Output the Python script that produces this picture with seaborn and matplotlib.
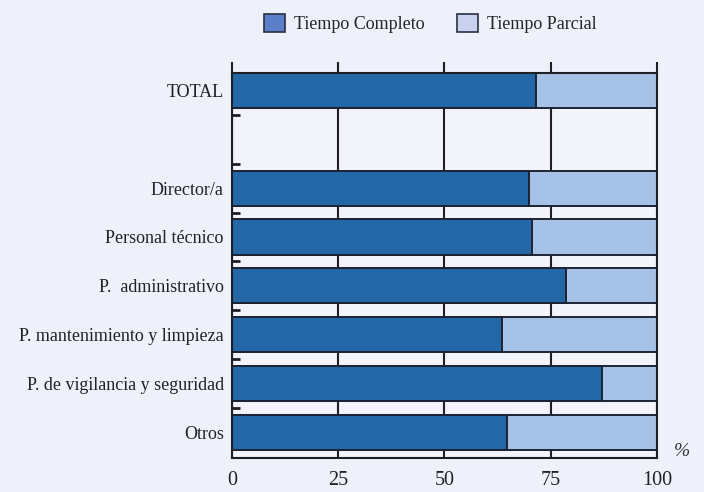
import numpy as np
import pandas as pd
import matplotlib
matplotlib.use('Agg')
import matplotlib.pyplot as plt
import seaborn as sns
from matplotlib.patches import Patch

# data (% of staff)
categorias = ['TOTAL', ' ', 'Director/a', 'Personal técnico', 'P.  administrativo',
              'P. mantenimiento y limpieza', 'P. de vigilancia y seguridad', 'Otros']
completo = [71.5, np.nan, 70.0, 70.7, 78.7, 63.5, 87.1, 64.8]
parcial = [28.5, np.nan, 30.0, 29.3, 21.3, 36.5, 12.9, 35.2]
xticks = [0, 25, 50, 75, 100]

c_dark = '#2367a6'
c_light = '#a6c1e6'
edge = '#1c2434'
bg = '#eef1fa'

sns.set_style('white')
plt.rcParams['font.family'] = ['Liberation Serif', 'DejaVu Serif']
plt.rcParams['font.size'] = 13

df = pd.DataFrame({'cat': categorias, 'completo': completo, 'parcial': parcial})
df['total'] = df['completo'] + df['parcial']
df = df.dropna()

fig = plt.figure(figsize=(7.04, 4.92), dpi=100, facecolor=bg)
ax = fig.add_axes([0.3295, 0.0691, 0.6035, 0.7825])
ax.set_facecolor('#f3f4fb')

# stacked: full bar in light, full-time part on top in dark
sns.barplot(data=df, x='total', y='cat', order=categorias, orient='h',
            color=c_light, width=0.72, edgecolor=edge, linewidth=1.4,
            saturation=1, ax=ax)
sns.barplot(data=df, x='completo', y='cat', order=categorias, orient='h',
            color=c_dark, width=0.72, edgecolor=edge, linewidth=1.4,
            saturation=1, ax=ax)

ax.set_xlim(0, 100)
ax.set_ylim(7.53, -0.36)
ax.set_xlabel('')
ax.set_ylabel('')

ax.set_xticks(xticks)
ax.xaxis.grid(True, color='#1e1e24', linewidth=1.5)
ax.set_axisbelow(True)
for s in ax.spines.values():
    s.set_color('#1e1e24')
    s.set_linewidth(1.5)

ax.tick_params(axis='x', bottom=False, top=True, direction='out', length=8,
               width=1.5, color='#1e1e24', labelsize=14.5, pad=1,
               labelcolor='#222222')
ax.tick_params(axis='y', which='major', left=False, length=0, pad=6,
               labelsize=13, labelcolor='#222222')
ax.set_yticks(np.arange(0.5, 7.5, 1), minor=True)
ax.tick_params(axis='y', which='minor', left=True, direction='in', length=6,
               width=2, color='#1e1e24')

ax.text(1.04, 0.016, '%', transform=ax.transAxes, fontsize=14, style='italic',
        color='#333333', ha='left', va='center')

handles = [Patch(facecolor='#5b80c9', edgecolor='#2a2f40', linewidth=1.2,
                 label='Tiempo Completo'),
           Patch(facecolor='#c9d1ef', edgecolor='#2a2f40', linewidth=1.2,
                 label='Tiempo Parcial')]
fig.legend(handles=handles, loc='center', bbox_to_anchor=(0.611, 0.953),
           ncol=2, frameon=False, fontsize=13, handlelength=1.15,
           handleheight=1.15, handletextpad=0.5, columnspacing=1.8)

plt.savefig('out.png', dpi=100, facecolor=bg)
